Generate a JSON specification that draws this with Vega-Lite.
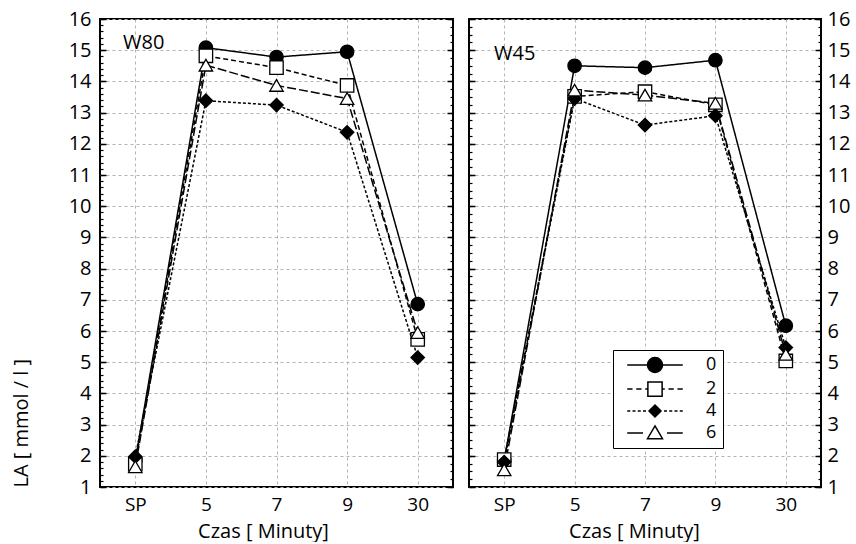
{
  "$schema": "https://vega.github.io/schema/vega-lite/v6.json",
  "padding": {"left": 10, "top": 8, "right": 0, "bottom": 0},
  "background": "white",
  "config": {
    "view": {"stroke": "black", "strokeWidth": 2},
    "font": "Open Sans",
    "title": {"font": "Open Sans", "fontWeight": "normal", "color": "black"}
  },
  "data": {
    "values": [
      {"p": "W80", "t": "SP", "s": "0", "v": 1.85},
      {"p": "W80", "t": "5", "s": "0", "v": 15.08},
      {"p": "W80", "t": "7", "s": "0", "v": 14.78},
      {"p": "W80", "t": "9", "s": "0", "v": 14.95},
      {"p": "W80", "t": "30", "s": "0", "v": 6.86},
      {"p": "W80", "t": "SP", "s": "2", "v": 1.73},
      {"p": "W80", "t": "5", "s": "2", "v": 14.82},
      {"p": "W80", "t": "7", "s": "2", "v": 14.44},
      {"p": "W80", "t": "9", "s": "2", "v": 13.87},
      {"p": "W80", "t": "30", "s": "2", "v": 5.73},
      {"p": "W80", "t": "SP", "s": "4", "v": 1.97},
      {"p": "W80", "t": "5", "s": "4", "v": 13.38},
      {"p": "W80", "t": "7", "s": "4", "v": 13.24},
      {"p": "W80", "t": "9", "s": "4", "v": 12.37},
      {"p": "W80", "t": "30", "s": "4", "v": 5.15},
      {"p": "W80", "t": "SP", "s": "6", "v": 1.65},
      {"p": "W80", "t": "5", "s": "6", "v": 14.52},
      {"p": "W80", "t": "7", "s": "6", "v": 13.87},
      {"p": "W80", "t": "9", "s": "6", "v": 13.45},
      {"p": "W80", "t": "30", "s": "6", "v": 5.95},
      {"p": "W45", "t": "SP", "s": "0", "v": 1.85},
      {"p": "W45", "t": "5", "s": "0", "v": 14.5},
      {"p": "W45", "t": "7", "s": "0", "v": 14.44},
      {"p": "W45", "t": "9", "s": "0", "v": 14.68},
      {"p": "W45", "t": "30", "s": "0", "v": 6.17},
      {"p": "W45", "t": "SP", "s": "2", "v": 1.88},
      {"p": "W45", "t": "5", "s": "2", "v": 13.52},
      {"p": "W45", "t": "7", "s": "2", "v": 13.67},
      {"p": "W45", "t": "9", "s": "2", "v": 13.25},
      {"p": "W45", "t": "30", "s": "2", "v": 5.04},
      {"p": "W45", "t": "SP", "s": "4", "v": 1.8},
      {"p": "W45", "t": "5", "s": "4", "v": 13.45},
      {"p": "W45", "t": "7", "s": "4", "v": 12.6},
      {"p": "W45", "t": "9", "s": "4", "v": 12.9},
      {"p": "W45", "t": "30", "s": "4", "v": 5.47},
      {"p": "W45", "t": "SP", "s": "6", "v": 1.55},
      {"p": "W45", "t": "5", "s": "6", "v": 13.72},
      {"p": "W45", "t": "7", "s": "6", "v": 13.56},
      {"p": "W45", "t": "9", "s": "6", "v": 13.3},
      {"p": "W45", "t": "30", "s": "6", "v": 5.25}
    ]
  },
  "resolve": {
    "scale": {"shape": "independent", "fill": "independent", "strokeDash": "independent", "x": "independent", "y": "independent"},
    "legend": {"shape": "independent", "fill": "independent", "strokeDash": "independent"}
  },
  "spacing": 12,
  "hconcat": [
    {
      "width": 353,
      "height": 468,
      "transform": [{"filter": "datum.p == 'W80'"}],
      "title": {"text": "W80", "anchor": "start", "frame": "group", "dx": 23, "offset": -60, "baseline": "alphabetic", "fontSize": 20},
      "resolve": {"axis": {"x": "shared", "y": "independent"}},
      "encoding": {
        "x": {"field": "t", "type": "ordinal", "scale": {"type": "point", "domain": ["SP", "5", "7", "9", "30"], "padding": 0.5},
          "axis": {"title": "Czas    [ Minuty]", "labelFont": "Open Sans", "labelFontSize": 19, "labelColor": "black", "labelPadding": 8, "labelAngle": 0, "ticks": false, "domain": false, "grid": true, "gridDash": [3, 3], "gridColor": "#b4b4b4", "titleFont": "Open Sans", "titleFontSize": 20, "titleFontWeight": "normal", "titleColor": "black", "titlePadding": 7, "titleX": 163}}
      },
      "layer": [
        {
          "mark": {"type": "line", "strokeWidth": 1.5, "color": "black"},
          "encoding": {
            "y": {"field": "v", "type": "quantitative", "scale": {"domain": [1, 16], "nice": false, "zero": false},
              "axis": {"orient": "left", "values": [1,2,3,4,5,6,7,8,9,10,11,12,13,14,15,16], "grid": true, "gridDash": [3, 3], "gridColor": "#b4b4b4", "ticks": true, "tickSize": -6, "tickWidth": 1.5, "tickColor": "black", "domain": false, "labelPadding": 15, "labelFont": "Open Sans", "labelFontSize": 20, "labelColor": "black", "title": "LA   [ mmol  /  l ]", "titleFont": "Open Sans", "titleFontSize": 20, "titleFontWeight": "normal", "titleColor": "black", "titleAlign": "left", "titleY": 468, "titleX": -69}},
            "strokeDash": {"field": "s", "type": "nominal", "scale": {"range": [[1, 0], [5, 3], [3, 2], [9, 3]]}, "legend": null}
          }
        },
        {
          "mark": {"type": "point", "filled": true, "size": 180, "stroke": "black", "strokeWidth": 1.3, "opacity": 1},
          "encoding": {
            "y": {"field": "v", "type": "quantitative", "scale": {"domain": [1, 16], "nice": false, "zero": false}, "axis": null},
            "shape": {"field": "s", "type": "nominal", "scale": {"domain": ["0", "2", "4", "6"], "range": ["circle", "square", "diamond", "triangle-up"]}, "legend": null},
            "fill": {"field": "s", "type": "nominal", "scale": {"domain": ["0", "2", "4", "6"], "range": ["black", "white", "black", "white"]}, "legend": null}
          }
        },
        {
          "mark": {"type": "point", "opacity": 0},
          "encoding": {
            "y": {"field": "v", "type": "quantitative", "scale": {"domain": [1, 16], "nice": false, "zero": false},
              "axis": {"orient": "left", "values": [1,1.2,1.4,1.6,1.8,2,2.2,2.4,2.6,2.8,3,3.2,3.4,3.6,3.8,4,4.2,4.4,4.6,4.8,5,5.2,5.4,5.6,5.8,6,6.2,6.4,6.6,6.8,7,7.2,7.4,7.6,7.8,8,8.2,8.4,8.6,8.8,9,9.2,9.4,9.6,9.8,10,10.2,10.4,10.6,10.8,11,11.2,11.4,11.6,11.8,12,12.2,12.4,12.6,12.8,13,13.2,13.4,13.6,13.8,14,14.2,14.4,14.6,14.8,15,15.2,15.4,15.6,15.8,16], "ticks": true, "tickSize": -3, "tickWidth": 1.2, "tickColor": "black", "labels": false, "domain": false, "grid": false, "title": null}}
          }
        },
        {
          "mark": {"type": "point", "opacity": 0},
          "encoding": {
            "y": {"field": "v", "type": "quantitative", "scale": {"domain": [1, 16], "nice": false, "zero": false},
              "axis": {"orient": "right", "values": [1,2,3,4,5,6,7,8,9,10,11,12,13,14,15,16], "ticks": true, "tickSize": -6, "tickWidth": 1.5, "tickColor": "black", "labels": false, "domain": false, "grid": false, "title": null}}
          }
        },
        {
          "mark": {"type": "point", "opacity": 0},
          "encoding": {
            "y": {"field": "v", "type": "quantitative", "scale": {"domain": [1, 16], "nice": false, "zero": false},
              "axis": {"orient": "right", "values": [1,1.25,1.5,1.75,2,2.25,2.5,2.75,3,3.25,3.5,3.75,4,4.25,4.5,4.75,5,5.25,5.5,5.75,6,6.25,6.5,6.75,7,7.25,7.5,7.75,8,8.25,8.5,8.75,9,9.25,9.5,9.75,10,10.25,10.5,10.75,11,11.25,11.5,11.75,12,12.25,12.5,12.75,13,13.25,13.5,13.75,14,14.25,14.5,14.75,15,15.25,15.5,15.75,16], "ticks": true, "tickSize": -3, "tickWidth": 1.2, "tickColor": "black", "labels": false, "domain": false, "grid": false, "title": null}}
          }
        }
      ]
    },
    {
      "width": 352,
      "height": 468,
      "transform": [{"filter": "datum.p == 'W45'"}],
      "title": {"text": "W45", "anchor": "start", "frame": "group", "dx": 25, "offset": -71, "baseline": "alphabetic", "fontSize": 20},
      "resolve": {"axis": {"x": "shared", "y": "independent"}, "scale": {"shape": "independent", "fill": "independent"}},
      "encoding": {
        "x": {"field": "t", "type": "ordinal", "scale": {"type": "point", "domain": ["SP", "5", "7", "9", "30"], "padding": 0.5},
          "axis": {"title": "Czas    [ Minuty]", "labelFont": "Open Sans", "labelFontSize": 19, "labelColor": "black", "labelPadding": 8, "labelAngle": 0, "ticks": false, "domain": false, "grid": true, "gridDash": [3, 3], "gridColor": "#b4b4b4", "titleFont": "Open Sans", "titleFontSize": 20, "titleFontWeight": "normal", "titleColor": "black", "titlePadding": 7, "titleX": 165}}
      },
      "layer": [
        {
          "mark": {"type": "line", "strokeWidth": 1.5, "color": "black"},
          "encoding": {
            "y": {"field": "v", "type": "quantitative", "scale": {"domain": [1, 16], "nice": false, "zero": false},
              "axis": {"orient": "left", "values": [1,2,3,4,5,6,7,8,9,10,11,12,13,14,15,16], "grid": true, "gridDash": [3, 3], "gridColor": "#b4b4b4", "ticks": true, "tickSize": -6, "tickWidth": 1.5, "tickColor": "black", "domain": false, "labels": false, "title": null}},
            "strokeDash": {"field": "s", "type": "nominal", "scale": {"range": [[1, 0], [5, 3], [3, 2], [9, 3]]}, "legend": null}
          }
        },
        {
          "mark": {"type": "point", "filled": true, "size": 180, "stroke": "black", "strokeWidth": 1.3, "opacity": 1},
          "encoding": {
            "y": {"field": "v", "type": "quantitative", "scale": {"domain": [1, 16], "nice": false, "zero": false}, "axis": null},
            "shape": {"field": "s", "type": "nominal", "scale": {"domain": ["0", "2", "4", "6"], "range": ["circle", "square", "diamond", "triangle-up"]}, "legend": null},
            "fill": {"field": "s", "type": "nominal", "scale": {"domain": ["0", "2", "4", "6"], "range": ["black", "white", "black", "white"]}, "legend": null}
          }
        },
        {
          "transform": [{"filter": "false"}],
          "mark": {"type": "point", "filled": true, "size": 225, "stroke": "black", "strokeWidth": 1.3, "opacity": 1},
          "encoding": {
            "y": {"field": "v", "type": "quantitative", "scale": {"domain": [1, 16], "nice": false, "zero": false}, "axis": null},
            "shape": {"field": "s", "type": "nominal",
              "scale": {"domain": ["0", "2", "4", "6"], "range": [
                "M-3.7,0H-1M1,0H3.7M-1,0C-1,-0.55 -0.55,-1 0,-1C0.55,-1 1,-0.55 1,0C1,0.55 0.55,1 0,1C-0.55,1 -1,0.55 -1,0Z",
                "M-3.7,0H-3M-2.5,0H-1.8M-1.3,0H-0.95M0.95,0H1.3M1.8,0H2.5M3,0H3.7M-0.95,-0.95H0.95V0.95H-0.95Z",
                "M-3.7,0H-3.3M-3,0H-2.6M-2.3,0H-1.9M-1.6,0H-1.2M1.2,0H1.6M1.9,0H2.3M2.6,0H3M3.3,0H3.7M0,-0.8L0.8,0L0,0.8L-0.8,0Z",
                "M-3.7,0H-1.6M1.6,0H3.7M0,-0.95L1,0.75H-1Z"]},
              "legend": {
                "orient": "none", "legendX": 144, "legendY": 331, "title": null,
                "strokeColor": "black", "fillColor": "white", "padding": 6,
                "symbolSize": 225, "symbolOffset": 27, "labelOffset": 42,
                "labelFont": "Open Sans", "labelFontSize": 18, "labelColor": "black",
                "rowPadding": 2,
                "encode": {
                  "legend": {"update": {"strokeWidth": {"value": 2}}},
                  "symbols": {"update": {"stroke": {"value": "black"}, "strokeWidth": {"value": 1.3}, "opacity": {"value": 1}}}
                }
              }},
            "fill": {"field": "s", "type": "nominal", "scale": {"domain": ["0", "2", "4", "6"], "range": ["black", "white", "black", "white"]}}
          }
        },
        {
          "mark": {"type": "point", "opacity": 0},
          "encoding": {
            "y": {"field": "v", "type": "quantitative", "scale": {"domain": [1, 16], "nice": false, "zero": false},
              "axis": {"orient": "left", "values": [1,1.25,1.5,1.75,2,2.25,2.5,2.75,3,3.25,3.5,3.75,4,4.25,4.5,4.75,5,5.25,5.5,5.75,6,6.25,6.5,6.75,7,7.25,7.5,7.75,8,8.25,8.5,8.75,9,9.25,9.5,9.75,10,10.25,10.5,10.75,11,11.25,11.5,11.75,12,12.25,12.5,12.75,13,13.25,13.5,13.75,14,14.25,14.5,14.75,15,15.25,15.5,15.75,16], "ticks": true, "tickSize": -3, "tickWidth": 1.2, "tickColor": "black", "labels": false, "domain": false, "grid": false, "title": null}}
          }
        },
        {
          "mark": {"type": "point", "opacity": 0},
          "encoding": {
            "y": {"field": "v", "type": "quantitative", "scale": {"domain": [1, 16], "nice": false, "zero": false},
              "axis": {"orient": "right", "values": [1,2,3,4,5,6,7,8,9,10,11,12,13,14,15,16], "ticks": true, "tickSize": -6, "tickWidth": 1.5, "tickColor": "black", "labels": true, "labelPadding": 12, "labelFont": "Open Sans", "labelFontSize": 20, "labelColor": "black", "domain": false, "grid": false, "title": null}}
          }
        },
        {
          "mark": {"type": "point", "opacity": 0},
          "encoding": {
            "y": {"field": "v", "type": "quantitative", "scale": {"domain": [1, 16], "nice": false, "zero": false},
              "axis": {"orient": "right", "values": [1,1.25,1.5,1.75,2,2.25,2.5,2.75,3,3.25,3.5,3.75,4,4.25,4.5,4.75,5,5.25,5.5,5.75,6,6.25,6.5,6.75,7,7.25,7.5,7.75,8,8.25,8.5,8.75,9,9.25,9.5,9.75,10,10.25,10.5,10.75,11,11.25,11.5,11.75,12,12.25,12.5,12.75,13,13.25,13.5,13.75,14,14.25,14.5,14.75,15,15.25,15.5,15.75,16], "ticks": true, "tickSize": -3, "tickWidth": 1.2, "tickColor": "black", "labels": false, "domain": false, "grid": false, "title": null}}
          }
        }
      ]
    }
  ]
}
